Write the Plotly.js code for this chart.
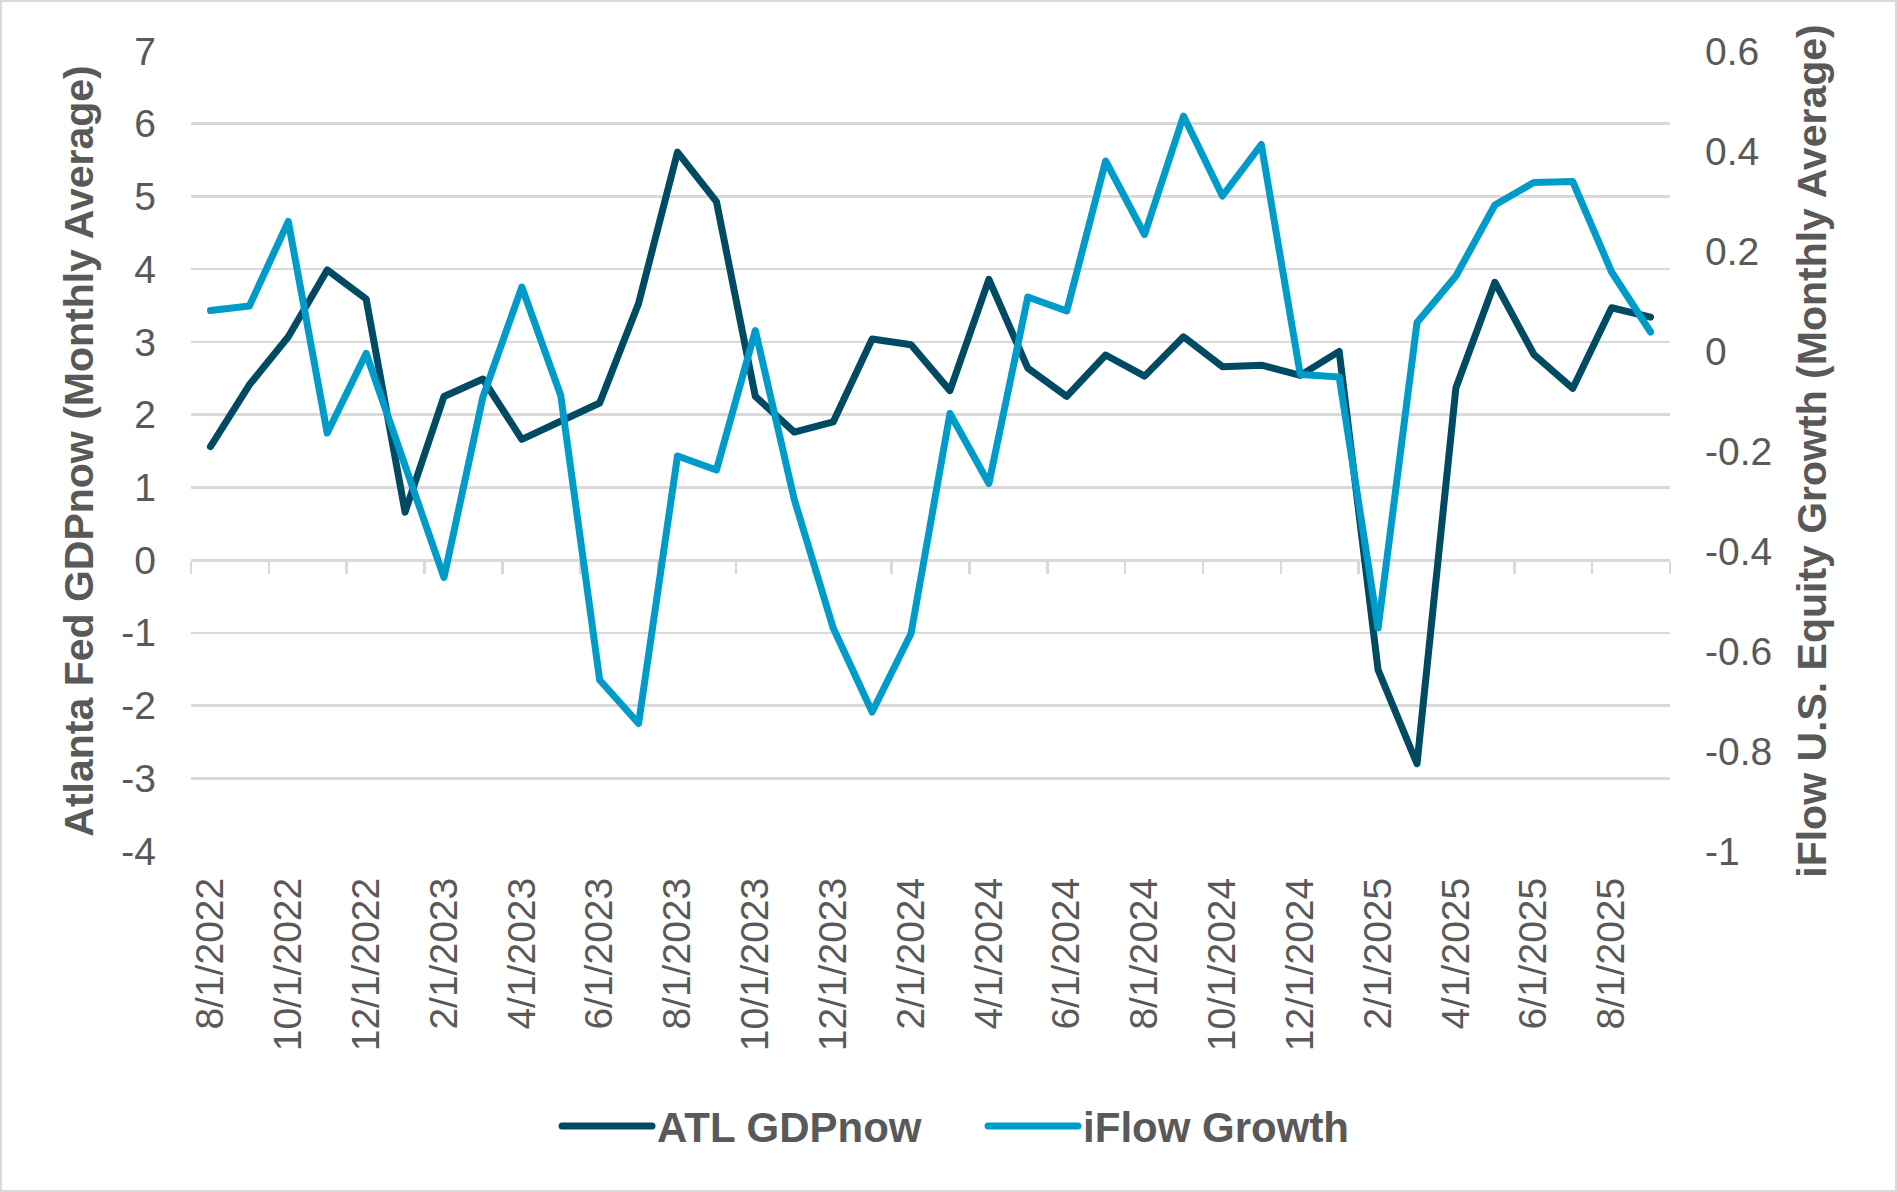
<!DOCTYPE html>
<html>
<head>
<meta charset="utf-8">
<script src="https://cdn.plot.ly/plotly-3.0.1.min.js"></script>
<style>
  html, body { margin: 0; padding: 0; background: #ffffff; }
  #wrap { position: relative; width: 1897px; height: 1192px; }
  #chart { width: 1897px; height: 1192px; }
  #frame { position: absolute; left: 0; top: 0; width: 1893px; height: 1188px; border: 2px solid #D9D9D9; pointer-events: none; }
  .scatterlayer .js-line { stroke-linejoin: round !important; stroke-linecap: round !important; }
  .legend .js-line { stroke-linecap: round !important; }
</style>
</head>
<body>
<div id="wrap"><div id="chart"></div><div id="frame"></div></div>
<script>
// ---- data ----
const months = [
  "8/1/2022","9/1/2022","10/1/2022","11/1/2022","12/1/2022",
  "1/1/2023","2/1/2023","3/1/2023","4/1/2023","5/1/2023","6/1/2023","7/1/2023","8/1/2023","9/1/2023","10/1/2023","11/1/2023","12/1/2023",
  "1/1/2024","2/1/2024","3/1/2024","4/1/2024","5/1/2024","6/1/2024","7/1/2024","8/1/2024","9/1/2024","10/1/2024","11/1/2024","12/1/2024",
  "1/1/2025","2/1/2025","3/1/2025","4/1/2025","5/1/2025","6/1/2025","7/1/2025","8/1/2025","9/1/2025"
];
const gdpNow = [
  1.56, 2.41, 3.07, 3.99, 3.59,
  0.66, 2.25, 2.49, 1.66, 1.90, 2.16, 3.53, 5.61, 4.93, 2.25, 1.76, 1.90,
  3.04, 2.96, 2.33, 3.86, 2.64, 2.25, 2.82, 2.53, 3.07, 2.66, 2.68, 2.54,
  2.87, -1.51, -2.80, 2.37, 3.82, 2.83, 2.36, 3.47, 3.34
];
const iflowGrowth = [
  0.081, 0.090, 0.259, -0.164, -0.005,
  -0.230, -0.453, -0.092, 0.128, -0.089, -0.658, -0.745, -0.210, -0.238, 0.041, -0.297, -0.554,
  -0.722, -0.565, -0.125, -0.265, 0.108, 0.080, 0.380, 0.233, 0.470, 0.310, 0.413, -0.047,
  -0.052, -0.554, 0.057, 0.150, 0.292, 0.337, 0.339, 0.158, 0.038
];
const labelMonths = months.filter((m, i) => i % 2 === 0);
const leftTickVals = [-4, -3, -2, -1, 0, 1, 2, 3, 4, 5, 6, 7];
const leftTickText = ["-4", "-3", "-2", "-1", "0", "1", "2", "3", "4", "5", "6", "7"];
const rightTickVals = [-1, -0.8, -0.6, -0.4, -0.2, 0, 0.2, 0.4, 0.6];
const rightTickText = ["-1", "-0.8", "-0.6", "-0.4", "-0.2", "0", "0.2", "0.4", "0.6"];
const seriesNames = ["ATL GDPnow", "iFlow Growth"];
const leftTitle = "Atlanta Fed GDPnow (Monthly Average)";
const rightTitle = "iFlow U.S. Equity Growth (Monthly Average)";

// ---- styling ----
const FONT = '"Liberation Sans", Arial, Helvetica, sans-serif';
const GRAY = '#595959';
const GRID = '#D9D9D9';
const DARK = '#004B63';
const LIGHT = '#009CC9';
const yRange = [-4, 7];
const y2Range = [-1, 0.6];
const xRange = [-0.5, months.length - 0.5];
// tick marks sit on category boundaries, every second month
const boundaryTicks = [];
for (let v = xRange[0]; v <= xRange[1] + 1e-9; v += 2) boundaryTicks.push(v);

const traces = [
  { x: months, y: gdpNow, name: seriesNames[0], type: 'scatter', mode: 'lines',
    line: { color: DARK, width: 7 }, xaxis: 'x', yaxis: 'y' },
  { x: months, y: iflowGrowth, name: seriesNames[1], type: 'scatter', mode: 'lines',
    line: { color: LIGHT, width: 7 }, xaxis: 'x2', yaxis: 'y2' }
];

const layout = {
  width: 1897, height: 1192,
  margin: { l: 191, r: 227, t: 51, b: 341, pad: 0 },
  paper_bgcolor: '#ffffff', plot_bgcolor: '#ffffff',
  font: { family: FONT, color: GRAY, size: 39 },
  showlegend: true,
  legend: {
    orientation: 'h', x: 0.2475, xanchor: 'left', y: -0.344, yanchor: 'middle',
    font: { family: FONT, size: 42, color: GRAY, weight: 'bold' },
    itemwidth: 90, entrywidth: 321, traceorder: 'normal', bgcolor: 'rgba(0,0,0,0)'
  },
  // axis line at y = 0 with boundary tick marks
  xaxis: {
    type: 'category', range: xRange, anchor: 'free',
    position: (0 - yRange[0]) / (yRange[1] - yRange[0]),
    tickmode: 'array', tickvals: boundaryTicks, showticklabels: false,
    ticks: 'outside', ticklen: 12, tickwidth: 2.5, tickcolor: GRID,
    showline: true, linecolor: GRID, linewidth: 2.5,
    showgrid: false, zeroline: false, layer: 'below traces'
  },
  // date labels at the bottom
  xaxis2: {
    type: 'category', range: xRange, overlaying: 'x', anchor: 'y2', side: 'bottom',
    tickmode: 'array', tickvals: labelMonths, ticktext: labelMonths, tickangle: -90,
    ticks: '', showgrid: false, showline: false, zeroline: false,
    tickfont: { family: FONT, size: 39, color: GRAY }, ticklabelstandoff: 18
  },
  yaxis: {
    range: yRange, tickmode: 'array', tickvals: leftTickVals, ticktext: leftTickText,
    showgrid: true, gridcolor: GRID, gridwidth: 2.5, zeroline: false, showline: false,
    ticks: '', ticklabelstandoff: 34, anchor: 'x',
    tickfont: { family: FONT, size: 39, color: GRAY },
    title: { text: leftTitle, standoff: 14, font: { family: FONT, size: 41, color: GRAY, weight: 'bold' } }
  },
  yaxis2: {
    range: y2Range, overlaying: 'y', side: 'right', anchor: 'x2',
    tickmode: 'array', tickvals: rightTickVals, ticktext: rightTickText,
    showgrid: false, zeroline: false, showline: false,
    ticks: '', ticklabelstandoff: 34,
    tickfont: { family: FONT, size: 39, color: GRAY },
    title: { text: rightTitle, standoff: 26, font: { family: FONT, size: 41, color: GRAY, weight: 'bold' } }
  }
};

Plotly.newPlot('chart', traces, layout, { displayModeBar: false, staticPlot: true });
</script>
</body>
</html>
